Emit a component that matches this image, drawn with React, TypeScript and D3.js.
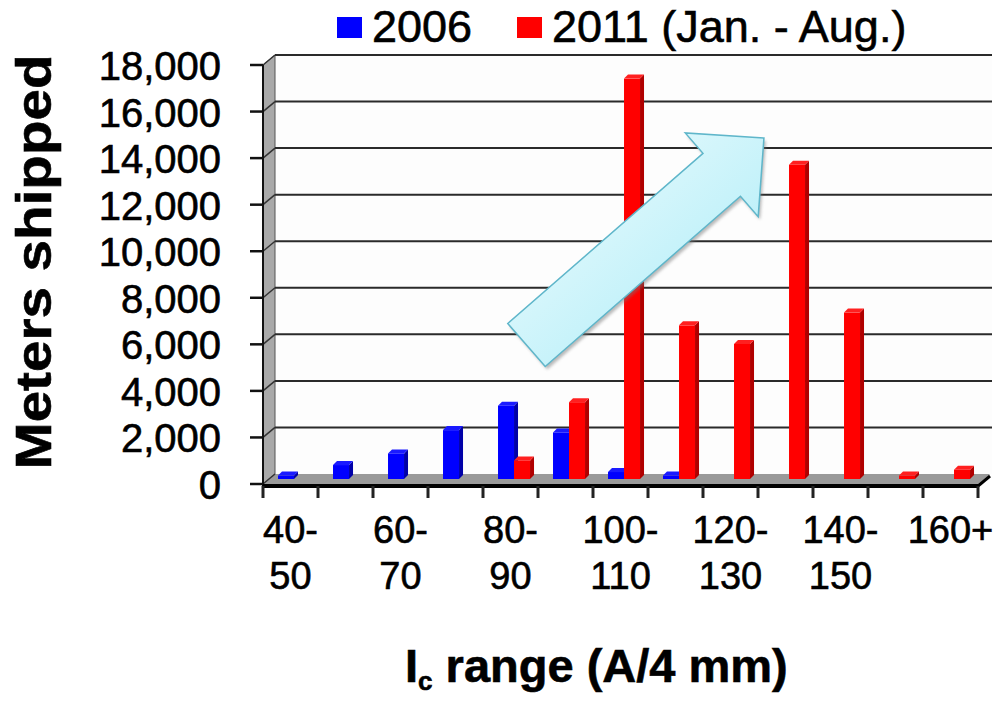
import React from "react";
import * as d3 from "d3";

// Shipment histogram by critical-current range
const categories = [
  "40-50", "50-60", "60-70", "70-80", "80-90", "90-100", "100-110",
  "110-120", "120-130", "130-140", "140-150", "150-160", "160+",
];
const seriesNames = ["2006", "2011 (Jan. - Aug.)"];
const values2006 = [150, 600, 1100, 2100, 3150, 2000, 300, 150, 0, 0, 0, 0, 0];
const values2011 = [0, 0, 0, 0, 800, 3300, 17200, 6600, 5800, 13500, 7150, 150, 400];
const yTicks = [0, 2000, 4000, 6000, 8000, 10000, 12000, 14000, 16000, 18000];
const seriesColors = ["#0000ff", "#ff0000"];
const sideColors = ["#0000a8", "#b00000"];
const topColors = ["#1a1aff", "#ff2020"];

const W = 994;
const H = 703;
const FONT = "'Liberation Sans', Arial, Helvetica, sans-serif";

// Plot frame (front plane) and 3D depth offset of the back wall
const X0 = 263;
const X1 = 978;
const Y0 = 484;
const Y1 = 65;
const DX = 12;
const DY = -10;
// Bars sit half way into the depth
const BDX = 0;
const BDY = -5;
const BAR_DEPTH = 4;

export default function App() {
  const x = d3.scaleBand<string>().domain(categories).range([X0, X1]).paddingInner(0);
  const bw = x.bandwidth();
  const gx = d3
    .scaleBand<string>()
    .domain(seriesNames)
    .range([bw * 0.273, bw * 0.855])
    .paddingInner(0);
  const y = d3.scaleLinear().domain([0, 18000]).range([Y0, Y1]);
  const fmt = d3.format(",");

  const series = [values2006, values2011];

  // Arrow annotation geometry
  const tail: [number, number] = [526.5, 345];
  const ang = Math.atan2(-170, 195);
  const ux = Math.cos(ang);
  const uy = Math.sin(ang);
  const px = -uy;
  const py = ux;
  const shaftLen = 259;
  const halfShaft = 28.5;
  const halfHead = 55.5;
  const headLen = 56;
  const pt = (a: number, b: number): [number, number] => [
    tail[0] + ux * a + px * b,
    tail[1] + uy * a + py * b,
  ];
  const arrowPts = [
    pt(0, -halfShaft),
    pt(shaftLen, -halfShaft),
    pt(shaftLen, -halfHead),
    pt(shaftLen + headLen, 0),
    pt(shaftLen, halfHead),
    pt(shaftLen, halfShaft),
    pt(0, halfShaft),
  ];
  const arrowPath = d3.line()(arrowPts) + "Z";

  const bars: React.ReactNode[] = [];
  categories.forEach((c, i) => {
    series.forEach((vals, s) => {
      const v = vals[i];
      if (!v) return;
      const bx = (x(c) as number) + (gx(seriesNames[s]) as number) + BDX;
      const w = gx.bandwidth();
      const yt = y(v) + BDY;
      const yb = y(0) + BDY;
      const d = BAR_DEPTH;
      bars.push(
        <g key={`${c}-${s}`}>
          <rect x={bx} y={yt} width={w} height={yb - yt} fill={seriesColors[s]} />
          <polygon
            points={`${bx + w},${yt} ${bx + w + d},${yt - d} ${bx + w + d},${yb - d} ${bx + w},${yb}`}
            fill={sideColors[s]}
          />
          <polygon
            points={`${bx},${yt} ${bx + d},${yt - d} ${bx + w + d},${yt - d} ${bx + w},${yt}`}
            fill={topColors[s]}
          />
        </g>
      );
    });
  });

  const boundaries = [...categories.map((c) => x(c) as number), X1];
  const textStroke = { stroke: "#000", strokeWidth: 0.6 };

  return (
    <svg
      width={W}
      height={H}
      viewBox={`0 0 ${W} ${H}`}
      style={{ position: "absolute", left: 0, top: 0, background: "#ffffff" }}
      fontFamily={FONT}
    >
      <defs>
        <linearGradient id="arrowFill" x1="0" y1="0" x2="1" y2="1">
          <stop offset="0" stopColor="#f4fdfe" />
          <stop offset="1" stopColor="#a6ebf7" />
        </linearGradient>
        <filter id="soft" x="-10%" y="-10%" width="120%" height="120%">
          <feGaussianBlur stdDeviation="1.5" />
        </filter>
      </defs>
      <rect x={0} y={0} width={W} height={H} fill="#ffffff" />

      {/* back wall */}
      <rect x={X0 + DX} y={Y1 + DY} width={W - (X0 + DX) - 2} height={Y0 - Y1} fill="#fdfdfd" />
      {/* left wall */}
      <polygon
        points={`${X0},${Y1} ${X0 + DX},${Y1 + DY} ${X0 + DX},${Y0 + DY} ${X0},${Y0}`}
        fill="#a9a9a9"
        stroke="#555"
        strokeWidth={1}
      />
      {/* floor */}
      <polygon
        points={`${X0},${Y0} ${X0 + DX},${Y0 + DY} ${X1 + DX},${Y0 + DY} ${X1},${Y0}`}
        fill="#9a9a9a"
      />

      {/* gridlines */}
      {yTicks.map((t) => (
        <g key={`g${t}`}>
          {t > 0 && (
            <line
              x1={X0 + DX}
              x2={W - 2}
              y1={y(t) + DY}
              y2={y(t) + DY}
              stroke="#2a2a2a"
              strokeWidth={2}
            />
          )}
          <line
            x1={X0}
            y1={y(t)}
            x2={X0 + DX}
            y2={y(t) + DY}
            stroke="#333"
            strokeWidth={1.5}
          />
        </g>
      ))}

      {/* bars */}
      {bars}

      {/* axes */}
      <line x1={X0} x2={X0} y1={Y1} y2={Y0 + 2} stroke="#111" strokeWidth={2} />
      <line x1={X0 - 1} x2={X1} y1={Y0 + 2} y2={Y0 + 2} stroke="#000" strokeWidth={4} />
      <line x1={X1} y1={Y0 + 2} x2={X1 + DX} y2={Y0 + DY + 2} stroke="#000" strokeWidth={3} />
      {boundaries.map((bx, i) => (
        <line key={`xt${i}`} x1={bx} x2={bx} y1={Y0 + 2} y2={Y0 + 14} stroke="#222" strokeWidth={3} />
      ))}
      {yTicks.map((t) => (
        <line key={`yt${t}`} x1={X0 - 13} x2={X0} y1={y(t)} y2={y(t)} stroke="#111" strokeWidth={2.5} />
      ))}

      {/* y tick labels */}
      {yTicks.map((t) => (
        <text
          key={`yl${t}`}
          x={221}
          y={y(t) + 15}
          fontSize={40}
          textAnchor="end"
          fill="#000"
          {...textStroke}
        >
          {fmt(t)}
        </text>
      ))}

      {/* x tick labels (every other category) */}
      {categories.map((c, i) => {
        if (i % 2 !== 0) return null;
        const cx = (x(c) as number) + bw / 2;
        const parts = c.includes("-") ? [c.split("-")[0] + "-", c.split("-")[1]] : [c];
        return (
          <text key={`xl${c}`} x={cx} y={543} fontSize={38} textAnchor="middle" fill="#000" {...textStroke}>
            {parts.map((p, k) => (
              <tspan key={k} x={cx} dy={k === 0 ? 0 : 46}>
                {p}
              </tspan>
            ))}
          </text>
        );
      })}

      {/* axis titles */}
      <text
        transform="translate(51,262) rotate(-90)"
        textAnchor="middle"
        fontSize={50}
        fontWeight="bold"
        textLength={415}
        lengthAdjust="spacingAndGlyphs"
        fill="#000"
        {...textStroke}
      >
        Meters shipped
      </text>
      <text x={405} y={682} fontSize={47} fontWeight="bold" fill="#000" {...textStroke}>
        I
        <tspan fontSize={26} dy={8}>
          c
        </tspan>
        <tspan dy={-8}> range (A/4 mm)</tspan>
      </text>

      {/* legend */}
      {seriesNames.map((n, s) => {
        const lx = s === 0 ? 337 : 517;
        return (
          <g key={`lg${s}`}>
            <rect x={lx} y={17} width={25} height={21} fill={seriesColors[s]} />
            <text x={lx + 35} y={42} fontSize={45} fill="#000" {...textStroke}>
              {n}
            </text>
          </g>
        );
      })}

      {/* trend arrow */}
      <path d={arrowPath} transform="translate(2,3)" fill="#777" opacity={0.5} filter="url(#soft)" />
      <path d={arrowPath} fill="url(#arrowFill)" stroke="#5fb6ca" strokeWidth={1.5} strokeLinejoin="miter" />
    </svg>
  );
}
